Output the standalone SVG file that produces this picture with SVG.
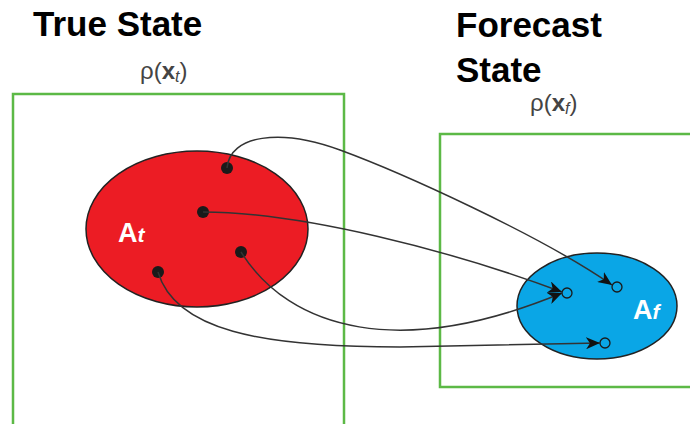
<svg xmlns="http://www.w3.org/2000/svg" width="690" height="424" viewBox="0 0 690 424">
<style>
.title{font-family:"Liberation Sans",Arial,sans-serif;font-weight:bold;font-size:35px;fill:#000}
.rho{font-family:"Liberation Sans",Arial,sans-serif;font-size:24px;fill:#444}
.box{fill:none;stroke:#5cb946;stroke-width:2.5}
.conn{fill:none;stroke:#333;stroke-width:1.5;marker-end:url(#arr)}
.lab{font-family:"Liberation Sans",Arial,sans-serif;font-weight:bold;font-size:27px;fill:#fff}
.dot{fill:#1a1a1a}
.hole{fill:none;stroke:#1a1a1a;stroke-width:1.3}
</style>
<defs>
<marker id="arr" markerUnits="userSpaceOnUse" markerWidth="15" markerHeight="12" refX="14" refY="6" orient="auto">
<path d="M0,0 L14,6 L0,12 L4,6 z" fill="#111"/>
</marker>
</defs>
<rect width="690" height="424" fill="#fff"/>
<g id="true-state">
<text class="title" x="33" y="36">True State</text>
<text class="rho" x="140" y="79">ρ(<tspan font-weight="bold">x</tspan><tspan font-style="italic" font-size="16" dy="3">t</tspan><tspan dy="-3">)</tspan></text>
<rect class="box" x="13" y="94" width="331" height="345"/>
<ellipse cx="197" cy="229" rx="111" ry="78" fill="#ec1c24" stroke="#222" stroke-width="1.5"/>
<text class="lab" x="118" y="242">A<tspan font-style="italic" font-size="21">t</tspan></text>
<circle class="dot" cx="227" cy="168" r="6"/>
<circle class="dot" cx="203" cy="212" r="6"/>
<circle class="dot" cx="241" cy="252" r="6"/>
<circle class="dot" cx="158" cy="272" r="6"/>
</g>
<g id="forecast-state">
<text class="title" x="456" y="37">Forecast</text>
<text class="title" x="456" y="82">State</text>
<text class="rho" x="530" y="111">ρ(<tspan font-weight="bold">x</tspan><tspan font-style="italic" font-size="16" dy="3">f</tspan><tspan dy="-3">)</tspan></text>
<rect class="box" x="440" y="134" width="270" height="253"/>
<ellipse cx="597" cy="306" rx="80" ry="53" fill="#0aa6e6" stroke="#222" stroke-width="1.5"/>
<text class="lab" x="633" y="319">A<tspan font-style="italic" font-size="21">f</tspan></text>
<circle class="hole" cx="567" cy="293" r="5"/>
<circle class="hole" cx="617" cy="287" r="5"/>
<circle class="hole" cx="605" cy="343" r="5"/>
</g>
<g id="connectors">
<path class="conn" d="M227,168 C230,135 280,128 340,150 S540,235 612,285"/>
<path class="conn" d="M203,212 C300,212 450,250 562,292"/>
<path class="conn" d="M241,252 C290,330 400,360 562,293"/>
<path class="conn" d="M158,272 C175,330 260,347 400,347 L600,343"/>
</g>
</svg>
